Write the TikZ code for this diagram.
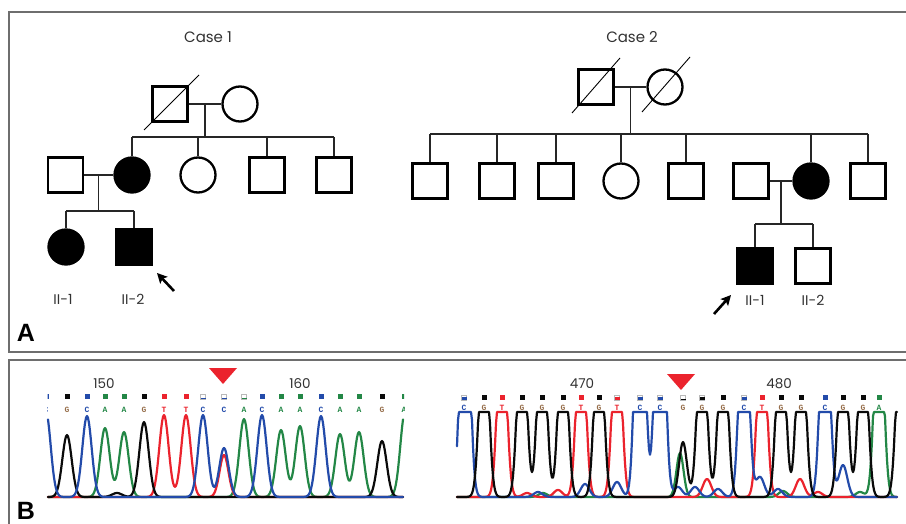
\documentclass[tikz,border=0pt]{standalone}
\usepackage{fontspec}
\setmainfont{Poppins}
\newfontfamily\labfont{Liberation Sans}
\newfontfamily\basefont{Liberation Mono}
\usetikzlibrary{arrows.meta,calc}
\definecolor{tblue}{RGB}{35,75,170}
\definecolor{tgreen}{RGB}{35,135,70}
\definecolor{tred}{RGB}{235,35,45}
\definecolor{tblack}{RGB}{10,10,10}
\definecolor{gletter}{RGB}{150,110,75}
\definecolor{framec}{RGB}{110,110,110}
\definecolor{txtc}{RGB}{50,50,50}
\begin{document}
\begin{tikzpicture}[x=1pt,y=-1pt,
  male/.style={draw, line width=2.3pt, minimum size=35pt, inner sep=0pt, rectangle},
  female/.style={draw, line width=2.3pt, minimum size=35pt, inner sep=0pt, circle},
  aff/.style={fill=black},
  link/.style={line width=1.1pt, draw=black!85},
  dec/.style={line width=0.9pt},
  prob/.style={line width=2.6pt, -{Stealth[length=10pt,width=10pt,inset=2pt]}},
  lbl/.style={font=\fontsize{14}{14}\selectfont, text=txtc, inner sep=0pt},
  ttl/.style={font=\fontsize{15}{15}\selectfont, text=txtc, inner sep=0pt},
  panel/.style={font=\labfont\bfseries\fontsize{25}{25}\selectfont, inner sep=0pt},
  frame/.style={draw=framec, line width=1.3pt},
  trace/.style={line width=2.2pt, line join=round, line cap=round},
  num/.style={font=\fontsize{13.5}{13.5}\selectfont, text=txtc, inner sep=0pt},
  basel/.style={font=\basefont\bfseries\fontsize{8}{8}\selectfont, inner sep=0pt},
  tri/.style={fill=tred}
]
\useasboundingbox (0,0) rectangle (906,524);
% frames
\draw[frame] (906,12) -- (9,12) -- (9,352) -- (906,352);
\draw[frame] (906,360) -- (9,360) -- (9,524);

% ================= Case 1 =================
\node[ttl] (t1) at (208,37) {Case 1};
\node[male] (c1f) at (170,104) {};
\node[female] (c1m) at (240,104) {};
\draw[dec] ($(c1f)+(-26,26)$) -- ($(c1f)+(29,-29)$);
\coordinate (c1mid) at ($(c1f.east)!0.5!(c1m.west)$);
\coordinate (c1j) at (205,137);
\node[male] (c1h) at (65.5,175) {};
\node[female,aff] (c1w) at (132,175) {};
\node[female] (c1s1) at (198,175) {};
\node[male] (c1s2) at (267,175) {};
\node[male] (c1s3) at (334,175) {};
\draw[link] (c1f) -- (c1m);
\draw[link] (c1mid) -- (c1mid |- c1j);
\draw[link] (c1w |- c1j) -- (c1s3 |- c1j);
\foreach \n in {c1w,c1s1,c1s2,c1s3} \draw[link] (\n |- c1j) -- (\n.north);
\coordinate (c1mid2) at ($(c1h.east)!0.5!(c1w.west)$);
\coordinate (c1k) at (100,211);
\node[female,aff] (c1d) at (66,247) {};
\node[male,aff] (c1p) at (134,247) {};
\draw[link] (c1h) -- (c1w);
\draw[link] (c1mid2) -- (c1mid2 |- c1k);
\draw[link] (c1d |- c1k) -- (c1p |- c1k);
\foreach \n in {c1d,c1p} \draw[link] (\n |- c1k) -- (\n.north);
\node[lbl] (l11) at (63,299) {II-1};
\node[lbl] (l12) at (133,299) {II-2};
\coordinate (a1s) at (174,291);
\coordinate (a1e) at (157,273);
\draw[prob] (a1s) -- (a1e);

% ================= Case 2 =================
\node[ttl] (t2) at (632,37) {Case 2};
\node[male] (c2f) at (596,87) {};
\node[female] (c2m) at (665,87) {};
\draw[dec] ($(c2f)+(-24,26)$) -- ($(c2f)+(24,-29)$);
\draw[dec] ($(c2m)+(-23,25)$) -- ($(c2m)+(25,-30)$);
\coordinate (c2mid) at ($(c2f.east)!0.5!(c2m.west)$);
\coordinate (c2j) at (631,134);
\node[male] (c2a) at (430,181) {};
\node[male] (c2b) at (497,181) {};
\node[male] (c2c) at (556,181) {};
\node[female] (c2d) at (621,181) {};
\node[male] (c2e) at (686,181) {};
\node[male] (c2h) at (751,181) {};
\node[female,aff] (c2w) at (811,181) {};
\node[male] (c2g) at (868,181) {};
\draw[link] (c2f) -- (c2m);
\draw[link] (c2mid) -- (c2mid |- c2j);
\draw[link] (c2a |- c2j) -- (c2g |- c2j);
\foreach \n in {c2a,c2b,c2c,c2d,c2e,c2w,c2g} \draw[link] (\n |- c2j) -- (\n.north);
\coordinate (c2mid2) at ($(c2h.east)!0.5!(c2w.west)$);
\coordinate (c2k) at (781,224);
\node[male,aff] (c2p) at (755,266) {};
\node[male] (c2s) at (813,266) {};
\draw[link] (c2h) -- (c2w);
\draw[link] (c2mid2) -- (c2mid2 |- c2k);
\draw[link] (c2p |- c2k) -- (c2s |- c2k);
\foreach \n in {c2p,c2s} \draw[link] (\n |- c2k) -- (\n.north);
\node[lbl] (l21) at (755,300) {II-1};
\node[lbl] (l22) at (813,300) {II-2};
\coordinate (a2s) at (714,314);
\coordinate (a2e) at (731,295);
\draw[prob] (a2s) -- (a2e);

\node[panel] (pa) at (26,333) {A};
\node[panel] (pb) at (26,511) {B};

% ================= Chromatogram left =================
\fill[tri] (209,368) -- (237,368) -- (223,384) -- cycle;
\node[num] (n150) at (104,384) {150};
\node[num] (n160) at (300,384) {160};
\begin{scope}
\clip (47.5,388) rectangle (404,420);
\foreach \px/\b/\sc/\lc/\t in {46/C/tblue/tblue/f,67/G/tblack/gletter/f,87/C/tblue/tblue/f,105/A/tgreen/tgreen/f,124/A/tgreen/tgreen/f,144/G/tblack/gletter/f,164/T/tred/tred/f,186/T/tred/tred/f,203/C/tblue/tblue/o,224/C/tblue/tblue/o,244/A/tgreen/tgreen/o,262/C/tblue/tblue/f,281/A/tgreen/tgreen/f,300/A/tgreen/tgreen/f,321/C/tblue/tblue/f,340/A/tgreen/tgreen/f,359/A/tgreen/tgreen/f,382/G/tblack/gletter/f,404/A/tgreen/tgreen/f}{
  \if\t f\fill[\sc] (\px-2.5,394) rectangle (\px+2.5,399);\fi
  \if\t o\draw[gray!55, line width=0.5pt] (\px-2.3,394) rectangle (\px+2.3,399);\fill[\sc] (\px-2.5,397.6) rectangle (\px+2.5,399);\fi
  \node[basel, text=\lc] (bl\px) at (\px,410) {\b};
}
\end{scope}
\draw[trace, tgreen] plot[domain=48:403, samples=356] (\x, {497 - 69*exp(-((\x-105)/6.6)^2) - 65*exp(-((\x-124)/6.6)^2) - 78*exp(-((\x-244)/6.6)^2) - 67*exp(-((\x-281)/6.6)^2) - 71*exp(-((\x-300)/6.6)^2) - 63*exp(-((\x-340)/6.6)^2) - 65*exp(-((\x-359)/6.6)^2) - 85*exp(-((\x-405)/6.6)^2)});
\draw[trace, tred] plot[domain=48:403, samples=356] (\x, {497 - 82*exp(-((\x-164)/6.6)^2) - 82*exp(-((\x-186)/6.6)^2) - 42*exp(-((\x-224)/6.3)^2)});
\draw[trace, tblack] plot[domain=48:403, samples=356] (\x, {497 - 62*exp(-((\x-67)/6.6)^2) - 75*exp(-((\x-144)/6.6)^2) - 56*exp(-((\x-382)/6.6)^2) - 4*exp(-((\x-117)/7)^2)});
\draw[trace, tblue] plot[domain=48:403, samples=356] (\x, {497 - 85*exp(-((\x-46)/6.6)^2) - 81*exp(-((\x-87)/6.6)^2) - 82*exp(-((\x-203)/6.6)^2) - 49*exp(-((\x-224)/6.6)^2) - 82*exp(-((\x-262)/6.6)^2) - 81*exp(-((\x-321)/6.6)^2)});

% ================= Chromatogram right =================
\fill[tri] (667,374) -- (695,374) -- (681,390) -- cycle;
\node[num] (n470) at (582,384) {470};
\node[num] (n480) at (779,384) {480};
\foreach \px/\b/\sc/\lc/\t in {464/C/tblue/tblue/b,484/G/tblack/gletter/f,502/T/tred/tred/f,522/G/tblack/gletter/f,542/G/tblack/gletter/f,563/G/tblack/gletter/f,581/T/tred/tred/f,599/G/tblack/gletter/f,617/T/tred/tred/b,640/C/tblue/tblue/b,660/C/tblue/tblue/b,683/G/tblack/gletter/o,702/G/tblack/gletter/b,723/G/tblack/gletter/f,744/C/tblue/tblue/b,762/T/tred/tred/f,781/G/tblack/gletter/f,801/G/tblack/gletter/f,825/C/tblue/tblue/f,843/G/tblack/gletter/f,863/G/tblack/gletter/f,879/A/tgreen/tgreen/f}{
  \if\t f\fill[\sc] (\px-2.5,395) rectangle (\px+2.5,400);\fi
  \if\t o\draw[gray!55, line width=0.5pt] (\px-2.3,395) rectangle (\px+2.3,400);\fill[\sc] (\px-2.5,398.6) rectangle (\px+2.5,400);\fi
  \if\t b\draw[gray!55, line width=0.5pt] (\px-2.3,395) rectangle (\px+2.3,400);\fill[\sc] (\px-2.5,397.3) rectangle (\px+2.5,400);\fi
  \node[basel, text=\lc] (br\px) at (\px,408) {\b};
}
\draw[trace, tgreen] plot[domain=457:897, samples=441] (\x, {497 - min(85, 44*exp(-((\x-680)/5)^2) + 220*exp(-((\x-879)/6)^2) + 6*exp(-((\x-783)/6)^2) + 5*exp(-((\x-860)/6)^2) + 4*exp(-((\x-543)/6)^2))});
\draw[trace, tred] plot[domain=457:897, samples=441] (\x, {497 - min(85, 200*exp(-((\x-502)/6)^2) + 200*exp(-((\x-581)/6)^2) + 200*exp(-((\x-617)/6)^2) + 200*exp(-((\x-762)/6)^2) + 7*exp(-((\x-558)/6)^2) + 18*exp(-((\x-707)/6)^2) + 18*exp(-((\x-800)/6)^2) + 5*exp(-((\x-818)/6)^2) + 4*exp(-((\x-527)/6)^2))});
\draw[trace, tblue] plot[domain=457:897, samples=441] (\x, {497 - min(85, 300*exp(-((\x-465)/6)^2) + 340*exp(-((\x-640)/6)^2) + 340*exp(-((\x-660)/6)^2) + 250*exp(-((\x-744)/6)^2) + 250*exp(-((\x-825)/6)^2) + 5*exp(-((\x-538)/6)^2) + 13*exp(-((\x-585)/6)^2) + 15*exp(-((\x-617)/6)^2) + 10*exp(-((\x-678)/6)^2) + 10*exp(-((\x-695)/6)^2) + 8*exp(-((\x-718)/6)^2) + 20*exp(-((\x-760)/6)^2) + 8*exp(-((\x-778)/6)^2) + 32*exp(-((\x-843)/6)^2))});
\draw[trace, tblack] plot[domain=457:897, samples=441] (\x, {497 - min(85, 200*exp(-((\x-484)/6)^2) + 200*exp(-((\x-522)/6)^2) + 200*exp(-((\x-542)/6)^2) + 200*exp(-((\x-563)/6)^2) + 200*exp(-((\x-599)/6)^2) + 55*exp(-((\x-683)/5.5)^2) + 200*exp(-((\x-702)/6)^2) + 200*exp(-((\x-723)/6)^2) + 200*exp(-((\x-781)/6)^2) + 200*exp(-((\x-801)/6)^2) + 200*exp(-((\x-843)/6)^2) + 200*exp(-((\x-863)/6)^2) + 200*exp(-((\x-901)/6)^2))});
\end{tikzpicture}
\end{document}
